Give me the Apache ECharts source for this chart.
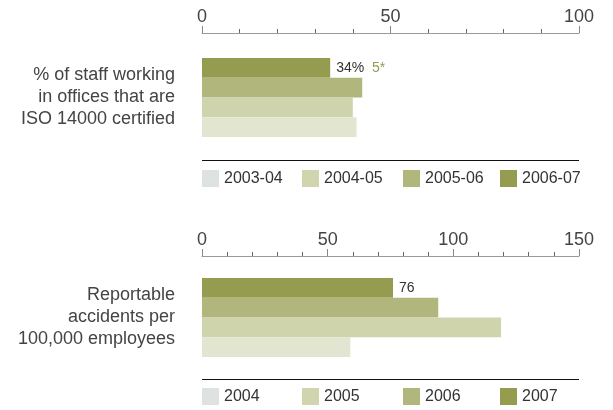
<!DOCTYPE html>
<html lang="en">
<head>
<meta charset="UTF-8">
<title>Staff ISO 14000 and accidents</title>
<script src="https://cdn.jsdelivr.net/npm/echarts@6/dist/echarts.min.js"></script>
<style>
  html, body { margin: 0; padding: 0; background: #fff; }
</style>
</head>
<body>
<div id="main" style="width: 613px;height:410px;"></div>
<script type="text/javascript">
// data
const isoLabel = ['% of staff working\nin offices that are\nISO 14000 certified'];
const isoYears = ['2003-04', '2004-05', '2005-06', '2006-07'];
const isoValues = [41, 40, 42.5, 34];
const isoTicks = [0, 50, 100];

const accLabel = ['Reportable\naccidents per\n100,000 employees'];
const accYears = ['2004', '2005', '2006', '2007'];
const accValues = [59, 119, 94, 76];
const accTicks = [0, 50, 100, 150];

// bar colours (light to dark) and the legend swatches
const barColors = ['#e2e6d1', '#d0d4ad', '#b1b67c', '#959b4f'];
const swatchColors = ['#dfe3e0', '#d0d5ae', '#b1b67c', '#959b4f'];
const legendLefts = [202, 302, 403, 500];

const font = 'Liberation Sans, Arial, sans-serif';

function xAxisFor(gridIndex, ticks, offset) {
  return {
    gridIndex: gridIndex,
    type: 'value',
    position: 'top',
    offset: offset,
    min: ticks[0],
    max: ticks[ticks.length - 1],
    interval: ticks[1] - ticks[0],
    axisLine: { show: true, lineStyle: { color: '#999', width: 1 } },
    axisTick: { show: true, length: 7, lineStyle: { color: '#888' } },
    minorTick: { show: true, splitNumber: 5, length: 4, lineStyle: { color: '#666' } },
    splitLine: { show: false },
    axisLabel: { color: '#444', fontSize: 18, fontFamily: font, margin: 7 }
  };
}

function yAxisFor(gridIndex, cats) {
  return {
    gridIndex: gridIndex,
    type: 'category',
    data: cats,
    axisLine: { show: false },
    axisTick: { show: false },
    axisLabel: {
      color: '#444', fontSize: 18, lineHeight: 22, fontFamily: font,
      align: 'right', margin: 27
    }
  };
}

// series are listed newest first so the newest bar lands on top
function seriesFor(names, values, axisIndex, labelIdx, formatter) {
  return names.map((name, i) => ({
    name: name,
    type: 'bar',
    xAxisIndex: axisIndex,
    yAxisIndex: axisIndex,
    data: [values[i]],
    barWidth: '25%',
    barGap: 0,
    barCategoryGap: 0,
    itemStyle: { color: barColors[i] },
    label: {
      show: i === labelIdx,
      position: 'right',
      distance: 6,
      formatter: formatter,
      color: '#333',
      fontSize: 14,
      fontFamily: font,
      rich: {
        a: { color: '#333', fontSize: 14, fontFamily: font },
        b: { color: '#959b4f', fontSize: 14, fontFamily: font }
      }
    },
    emphasis: { disabled: true }
  })).reverse();
}

// one legend per item so each swatch sits at its own column
function legendsFor(names, top) {
  return names.map((n, i) => ({
    top: top,
    left: legendLefts[i],
    padding: 0,
    itemWidth: 17,
    itemHeight: 17,
    icon: 'rect',
    selectedMode: false,
    data: [{ name: n, itemStyle: { color: swatchColors[i] } }],
    textStyle: { color: '#333', fontSize: 16, fontFamily: font }
  }));
}

let options = {
  animation: false,
  grid: [
    { left: 202, width: 377, top: 58, height: 79 },
    { left: 202, width: 377, top: 278, height: 79 }
  ],
  xAxis: [xAxisFor(0, isoTicks, 25), xAxisFor(1, accTicks, 22)],
  yAxis: [yAxisFor(0, isoLabel), yAxisFor(1, accLabel)],
  legend: legendsFor(isoYears, 170).concat(legendsFor(accYears, 388)),
  series: [].concat(
    seriesFor(isoYears, isoValues, 0, 3, p => '{a|' + p.value + '%}  {b|5*}'),
    seriesFor(accYears, accValues, 1, 3, p => String(p.value))
  ),
  graphic: [
    { type: 'line', shape: { x1: 202, y1: 160.5, x2: 579, y2: 160.5 }, style: { stroke: '#111', lineWidth: 1 } },
    { type: 'line', shape: { x1: 202, y1: 379.5, x2: 579, y2: 379.5 }, style: { stroke: '#111', lineWidth: 1 } }
  ]
};

let myChart = echarts.init(document.getElementById('main'));
myChart.setOption(options);
</script>
</body>
</html>
